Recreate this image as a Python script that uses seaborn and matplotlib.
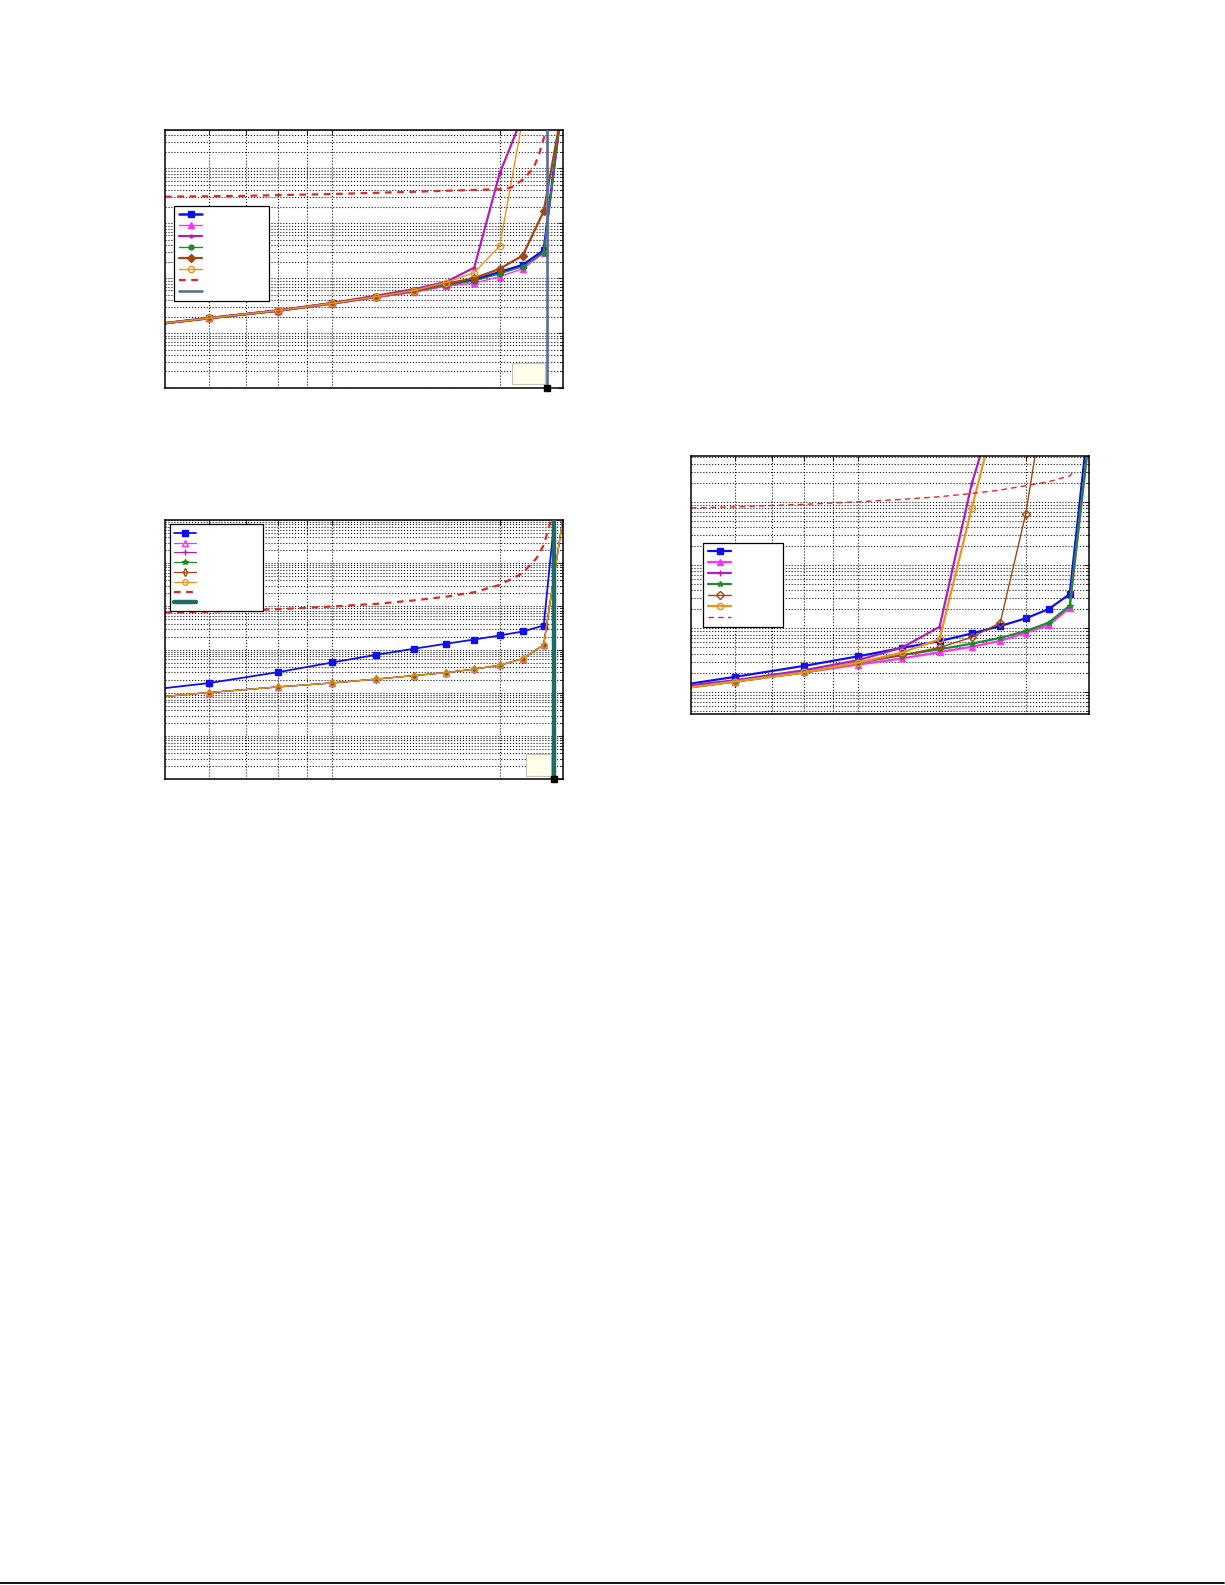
import numpy as np
import pandas as pd
import seaborn as sns
import matplotlib.pyplot as plt
from matplotlib.lines import Line2D
from matplotlib.patches import Rectangle
from matplotlib.ticker import FixedLocator, NullLocator, LogLocator, NullFormatter

# ---- data ----
x_pts = [2, 3, 4, 5, 6, 7, 8, 9, 10, 11, 12, 13]

# panel 1 (top left)
p1_blue = [1.17e-3, 1.87e-3, 2.57e-3, 3.47e-3, 4.57e-3, 5.75e-3, 7.6e-3, 9.3e-3, 1.29e-2, 1.74e-2, 3.2e-2, 20]
p1_tri = [1.17e-3, 1.86e-3, 2.51e-3, 3.39e-3, 4.47e-3, 5.5e-3, 7.1e-3, 8.1e-3, 1.07e-2, 1.48e-2, 2.85e-2, 20]
p1_purple = [1.17e-3, 1.87e-3, 2.6e-3, 3.55e-3, 4.8e-3, 6.3e-3, 8.5e-3, 1.56e-2, 0.81, 8.9]
p1_green = [1.17e-3, 1.87e-3, 2.57e-3, 3.47e-3, 4.57e-3, 5.75e-3, 7.4e-3, 8.9e-3, 1.2e-2, 1.62e-2, 2.92e-2, 19.5]
p1_brown = [1.17e-3, 1.87e-3, 2.57e-3, 3.5e-3, 4.6e-3, 5.9e-3, 7.9e-3, 1.0e-2, 1.48e-2, 2.58e-2, 0.165, 14.8]
p1_orange = [1.17e-3, 1.87e-3, 2.58e-3, 3.5e-3, 4.6e-3, 5.95e-3, 8.3e-3, 1.26e-2, 3.86e-2, 7.9]
p1_red_x = [2.5, 3.5, 5, 7, 8.5, 10, 10.5, 11.0, 11.5, 11.75, 11.95, 12.1, 12.2]
p1_red = [0.305, 0.316, 0.341, 0.374, 0.398, 0.417, 0.45, 0.62, 1.0, 1.7, 3.0, 4.6, 6.5]
p1_cap = 12.15

# panel 2 (bottom left)
p2_blue = [9.3e-4, 1.69e-3, 3.03e-3, 5.07e-3, 7.62e-3, 1.05e-2, 1.37e-2, 1.72e-2, 2.13e-2, 2.64e-2, 3.62e-2, 1000]
p2_rest = [6.46e-4, 1.02e-3, 1.38e-3, 1.70e-3, 2.09e-3, 2.51e-3, 2.95e-3, 3.55e-3, 4.37e-3, 6.17e-3, 1.30e-2, 11.2]
p2_red_x = [2.5, 3, 4, 5, 6, 7, 8, 9, 10, 11, 11.65, 12, 12.3, 12.4]
p2_red = [7.24e-2, 7.62e-2, 8.65e-2, 0.1, 0.115, 0.138, 0.168, 0.214, 0.316, 0.589, 1.31, 2.63, 7.67, 12.6]
p2_cap = 12.5

# panel 3 (right)
p3_blue = [1.0e-3, 1.72e-3, 2.57e-3, 3.63e-3, 4.94e-3, 6.31e-3, 8.32e-3, 1.09e-2, 1.44e-2, 2.02e-2, 3.48e-2, 22.4]
p3_tri = [9.5e-4, 1.45e-3, 2.02e-3, 2.69e-3, 3.36e-3, 4.23e-3, 5.13e-3, 6.37e-3, 8.5e-3, 1.13e-2, 2.12e-2, 10]
p3_purple = [1.02e-3, 1.52e-3, 2.19e-3, 3.16e-3, 5.0e-3, 1.06e-2, 1.95, 57.5]
p3_orange = [9.1e-4, 1.45e-3, 2.02e-3, 2.88e-3, 4.17e-3, 6.76e-3, 0.80, 44.7]
p3_brown = [9.1e-4, 1.45e-3, 2.02e-3, 2.88e-3, 3.8e-3, 5.0e-3, 7.24e-3, 1.23e-2, 0.64, 115]
p3_green = [9.1e-4, 1.45e-3, 2.02e-3, 2.88e-3, 3.8e-3, 4.68e-3, 5.75e-3, 7.08e-3, 9.1e-3, 1.23e-2, 2.29e-2, 11.2]
p3_red_x = [2.5, 3, 4, 5, 6, 7, 8, 9, 10, 11, 12, 12.2]
p3_red = [0.80, 0.83, 0.91, 1.0, 1.09, 1.20, 1.35, 1.53, 1.79, 2.07, 2.55, 3.09]

x_grid = [3, 3.5, 4, 4.5, 5, 10]
x_lim = (2.5, 13)

BLUE = '#1010e8'
MAG = '#ff30ff'
PURP = '#b020b8'
GREEN = '#1f8a2a'
BROWN = '#a3460f'
ORANGE = '#e89520'
RED = '#e02828'
SLATE = '#5a6d98'
TEAL = '#1d6b65'

sns.set_style('white')
plt.rcParams['font.family'] = ['DejaVu Sans']

fig = plt.figure(figsize=(12.25, 15.85), dpi=100)


def line(ax, x, y, color, lw, marker=None, ms=4, mfc=None, dash=None):
    n = len(y)
    kw = dict(color=color, lw=lw, label=' ')
    if marker:
        kw.update(marker=marker, markersize=ms, markeredgecolor=color,
                  markerfacecolor=color if mfc is None else mfc, markeredgewidth=1)
    if dash:
        kw.update(linestyle=dash)
    sns.lineplot(x=list(x[:n]), y=list(y), ax=ax, **kw)


def style(ax, ylim):
    ax.set_xscale('log')
    ax.set_yscale('log')
    ax.set_xlim(*x_lim)
    ax.set_ylim(*ylim)
    ax.xaxis.set_major_locator(FixedLocator(x_grid))
    ax.xaxis.set_minor_locator(NullLocator())
    ax.yaxis.set_major_locator(LogLocator(base=10))
    ax.yaxis.set_minor_locator(LogLocator(base=10, subs=np.arange(2, 10)))
    for a in (ax.xaxis, ax.yaxis):
        a.set_major_formatter(NullFormatter())
        a.set_minor_formatter(NullFormatter())
    ax.grid(True, which='both', axis='y', color='0.1', ls=':', lw=0.8)
    ax.grid(True, which='major', axis='x', color='0.1', ls=':', lw=0.8)
    ax.tick_params(which='both', direction='in', top=True, right=True)
    ax.tick_params(which='major', length=3.5, width=0.8)
    ax.tick_params(which='minor', length=2, width=0.6)
    ax.set_xlabel('')
    ax.set_ylabel('')
    for s in ax.spines.values():
        s.set_color('black')
        s.set_linewidth(1.1)


def legend(ax, x0, top, w, fs=6.5, spacing=0.2):
    leg = ax.legend(loc='upper left', bbox_to_anchor=(x0, top, w, 0), mode='expand',
                    borderaxespad=0, fontsize=fs, handlelength=2.6, labelspacing=spacing,
                    frameon=True, fancybox=False, borderpad=0.5)
    leg.get_frame().set_edgecolor('black')
    leg.get_frame().set_linewidth(0.9)
    leg.get_frame().set_alpha(1)


def note_box(ax, x0, y0, w, h):
    ax.add_patch(Rectangle((x0, y0), w, h, transform=ax.transAxes, facecolor='#fdfdea',
                           edgecolor='#c4c4bc', lw=0.8, zorder=4))


# ---- panel 1 ----
ax1 = fig.add_axes([0.1347, 0.7552, 0.3249, 0.1628])
line(ax1, x_pts, p1_blue, BLUE, 1.8, 's', 4.5)
line(ax1, x_pts, p1_tri, MAG, 1.0, '^', 5)
line(ax1, x_pts, p1_purple, PURP, 1.6, '.', 4)
line(ax1, x_pts, p1_green, GREEN, 1.0, 'o', 3.5)
line(ax1, x_pts, p1_brown, BROWN, 1.6, 'D', 4)
line(ax1, x_pts, p1_orange, ORANGE, 1.0, 'o', 4.5, mfc='none')
line(ax1, p1_red_x, p1_red, RED, 1.6, dash=(0, (3, 2.5)))
ax1.axvline(p1_cap, color=SLATE, lw=1.9, label=' ', zorder=5)
ax1.plot([p1_cap], [1e-4], 's', color='black', markersize=4, clip_on=False, zorder=6)
style(ax1, (1e-4, 5.0))
legend(ax1, 0.0234, 0.705, 0.239, fs=6.5, spacing=0.22)
note_box(ax1, 0.871, 0.0155, 0.084, 0.083)

# ---- panel 2 ----
ax2 = fig.add_axes([0.1347, 0.5083, 0.3249, 0.1636])
line(ax2, x_pts, p2_blue, BLUE, 1.3, 's', 5)
line(ax2, x_pts, p2_rest, MAG, 0.9, '^', 4, mfc='none')
line(ax2, x_pts, p2_rest, PURP, 0.9, '+', 5)
line(ax2, x_pts, p2_rest, GREEN, 0.9, '*', 4)
line(ax2, x_pts, p2_rest, BROWN, 0.9, 'd', 4, mfc='none')
line(ax2, x_pts, p2_rest, ORANGE, 0.9, 'o', 4, mfc='none')
line(ax2, p2_red_x, p2_red, RED, 1.6, dash=(0, (3, 2.5)))
ax2.axvline(p2_cap, color=TEAL, lw=3.2, label=' ', zorder=5)
ax2.plot([p2_cap], [1e-5], 's', color='black', markersize=4, clip_on=False, zorder=6)
style(ax2, (1e-5, 10))
legend(ax2, 0.0126, 0.983, 0.234, fs=6.0, spacing=0.1)
note_box(ax2, 0.906, 0.014, 0.064, 0.082)

# ---- panel 3 ----
ax3 = fig.add_axes([0.5641, 0.5495, 0.3249, 0.1628])
line(ax3, x_pts, p3_blue, BLUE, 1.6, 's', 4.5)
line(ax3, x_pts, p3_tri, MAG, 1.6, '^', 4.5)
line(ax3, x_pts, p3_purple, PURP, 1.6, '+', 5)
line(ax3, x_pts, p3_green, GREEN, 1.6, '*', 4)
line(ax3, x_pts, p3_brown, BROWN, 1.0, 'D', 4, mfc='none')
line(ax3, x_pts, p3_orange, ORANGE, 1.6, 'o', 4.5, mfc='none')
line(ax3, p3_red_x, p3_red, RED, 1.0, dash=(0, (4, 3)))
style(ax3, (4.45e-4, 5.27))
legend(ax3, 0.031, 0.664, 0.201, fs=6.5, spacing=0.22)

# page rule at the bottom
fig.add_artist(Line2D([0.0, 0.9992], [0.001, 0.001], transform=fig.transFigure,
                      color='black', lw=1.3))

fig.savefig('out.png', dpi=100, facecolor='white')
